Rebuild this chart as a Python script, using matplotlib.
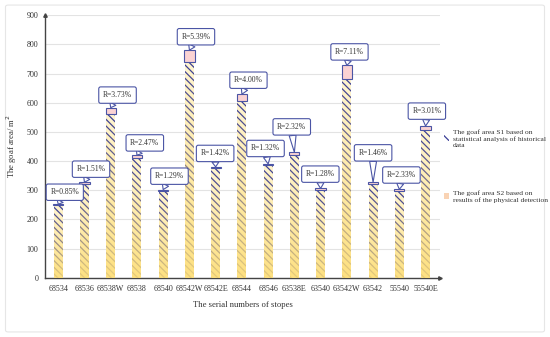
import matplotlib.pyplot as plt
import numpy as np
from matplotlib.patches import Patch, FancyBboxPatch

# stope numbers
stopes = ["68534", "68536", "68538W", "68538", "68540", "68542W", "68542E", "68544",
          "68546", "63538E", "63540", "63542W", "63542", "55540", "55540E"]
# S1: statistical analysis, S2: physical detection  [m2]
s1 = [250, 322, 562, 410, 298, 740, 375, 605, 385, 420, 302, 680, 322, 296, 505]
s2 = [252, 327, 583, 420, 302, 780, 380, 629, 390, 430, 306, 728, 327, 303, 520]
r_txt = ["0.85", "1.51", "3.73", "2.47", "1.29", "5.39", "1.42", "4.00",
         "1.32", "2.32", "1.28", "7.11", "1.46", "2.33", "3.01"]

# where the callouts sit (offset from the bar, and height)
lab_dx = [0.25, 0.25, 0.26, 0.3, 0.24, 0.25, -0.02, 0.25, -0.1, -0.1, -0.01, 0.1, 0.0, 0.08, 0.05]
lab_y = [293, 372, 626, 462, 348, 826, 426, 677, 443, 517, 355, 774, 428, 352, 571]

navy = "#3B3F96"
edge = "#4B55A5"
plt.rcParams['font.family'] = ['Liberation Serif', 'DejaVu Serif']
plt.rcParams['hatch.linewidth'] = 0.9

fig = plt.figure(figsize=(5.5, 3.37), dpi=100)
ax = fig.add_axes([0.082, 0.176, 0.718, 0.779])

# light frame round the figure
fig.patches.append(FancyBboxPatch((0.01, 0.015), 0.98, 0.97, boxstyle="round,pad=0,rounding_size=0.005",
                                  transform=fig.transFigure, fc='white', ec='#e6e6e6', lw=0.8, zorder=-10))

x = np.arange(len(stopes))
w = 0.34
bars = ax.bar(x, s1, width=w, color="#FFF4CF", edgecolor=navy, linewidth=0,
              hatch="\\\\\\\\\\", zorder=2)

# yellow fade from bottom to top of every bar
grad = np.zeros((100, 1, 4))
grad[:, 0, :3] = np.array([253, 222, 120]) / 255
grad[:, 0, 3] = np.linspace(0.9, 0.0, 100)
for b in bars:
    im = ax.imshow(grad, extent=[b.get_x(), b.get_x() + b.get_width(), 0, b.get_height()],
                   origin='lower', aspect='auto', zorder=3)
    im.set_clip_path(b)

diff = np.array(s2) - np.array(s1)
ax.bar(x, diff, bottom=s1, width=w + 0.05, color="#FAD2D3", edgecolor=edge, linewidth=0.8, zorder=4)

for i in range(len(stopes)):
    ax.annotate("R=" + r_txt[i] + "%", xy=(x[i], s2[i]), xytext=(x[i] + lab_dx[i], lab_y[i]),
                ha='center', va='center', fontsize=5.5, color='#333333', zorder=6,
                bbox=dict(boxstyle="round,pad=0.55,rounding_size=0.25", fc='white', ec=edge, lw=0.8),
                arrowprops=dict(arrowstyle="wedge,tail_width=0.9,shrink_factor=0.5",
                                fc='white', ec=edge, lw=0.8, shrinkA=0, shrinkB=0))

ax.set_xlim(-0.5, len(stopes) - 0.45)
ax.set_ylim(0, 900)
ax.set_yticks(np.arange(0, 901, 100))
ax.set_xticks(x)
ax.set_xticklabels(stopes)
ax.tick_params(length=0, labelsize=5.8, colors='#333333', pad=5)
ax.grid(axis='y', color='#e3e3e3', lw=0.8, zorder=0)
ax.set_axisbelow(True)
for s in ['top', 'right']:
    ax.spines[s].set_visible(False)
for s in ['left', 'bottom']:
    ax.spines[s].set_color('#444444')
    ax.spines[s].set_linewidth(1.0)
ax.plot(1, 0, ">", color='#444444', ms=2.5, transform=ax.transAxes, clip_on=False)
ax.plot(0, 1, "^", color='#444444', ms=2.5, transform=ax.transAxes, clip_on=False)

ax.set_xlabel("The serial numbers of stopes", fontsize=6.2, color='#333333', labelpad=6)
ax.set_ylabel("The goaf area/ m$^2$", fontsize=6.2, color='#333333', labelpad=5)

h1 = Patch(facecolor='white', edgecolor=navy, linewidth=0, hatch="\\\\\\\\")
h2 = Patch(facecolor='#F9D3B4', edgecolor='none')
fig.legend([h1], ["The goaf area S1 based on\nstatistical analysis of historical\ndata"],
           loc='upper left', bbox_to_anchor=(0.795, 0.635), frameon=False, fontsize=5.4,
           handlelength=0.7, handleheight=0.7, handletextpad=0.5, labelcolor='#333333')
fig.legend([h2], ["The goaf area S2 based on\nresults of the physical detection"],
           loc='upper left', bbox_to_anchor=(0.795, 0.455), frameon=False, fontsize=5.4,
           handlelength=0.7, handleheight=0.7, handletextpad=0.5, labelcolor='#333333')

fig.savefig("out.png", dpi=100)
